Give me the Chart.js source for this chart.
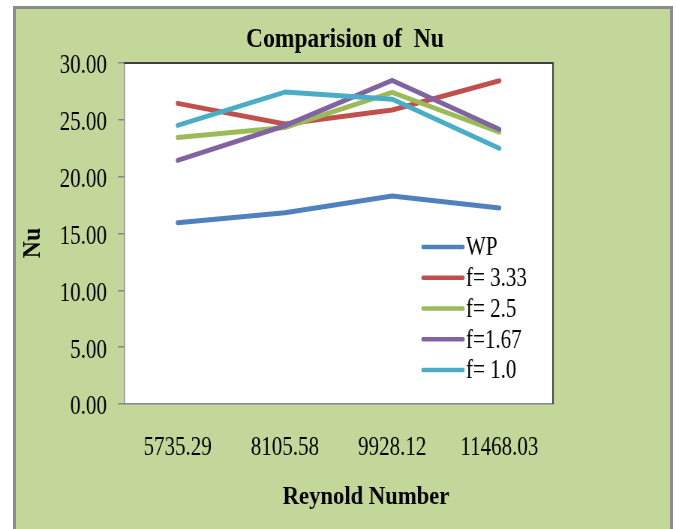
<!DOCTYPE html>
<html>
<head>
<meta charset="utf-8">
<script src="https://cdn.jsdelivr.net/npm/chart.js@4/dist/chart.umd.min.js"></script>
<style>
  html, body { margin: 0; padding: 0; background: #ffffff; width: 676px; height: 529px; overflow: hidden; }
  #frame { position: absolute; left: 13px; top: 6px; width: 660px; height: 540px; background: #c4d79b;
           border: 3px solid #8c8c8c; box-sizing: border-box; }
  /* the chart is laid out on a wider canvas and squeezed horizontally, giving the narrow serif lettering */
  #wrap { position: absolute; left: 0; top: 0; width: 901px; height: 529px; transform: scaleX(0.75028); transform-origin: 0 0; }
</style>
</head>
<body>
<div id="frame"></div>
<div id="wrap"><canvas id="chart" width="901" height="529"></canvas></div>
<script>
const SQUEEZE = 676 / 901;

const categories = ['5735.29', '8105.58', '9928.12', '11468.03'];
const seriesNames = ['WP', 'f= 3.33', 'f= 2.5', 'f=1.67', 'f= 1.0'];
const nuWP    = [15.95, 16.83, 18.30, 17.24];
const nuF333  = [26.45, 24.63, 25.86, 28.44];
const nuF25   = [23.45, 24.33, 27.41, 23.92];
const nuF167  = [21.43, 24.48, 28.47, 24.16];
const nuF10   = [24.51, 27.44, 26.82, 22.49];
const yTicks  = [0, 5, 10, 15, 20, 25, 30];

const chartTitle = 'Comparision of  Nu';
const xTitle = 'Reynold Number';
const yTitle = 'Nu';

const colors = ['#4f81bd', '#c0504d', '#9bbb59', '#8064a2', '#4bacc6'];
const seriesValues = [nuWP, nuF333, nuF25, nuF167, nuF10];

const SERIF = "'Liberation Serif', 'Times New Roman', serif";

// screen px -> canvas px along x
const cx = v => v / SQUEEZE;

function drawText(ctx, text, x, y, font, sx, sy, rotate) {
  ctx.save();
  ctx.translate(x, y);
  if (rotate) ctx.rotate(rotate);
  ctx.scale(sx, sy);
  ctx.font = font;
  ctx.fillStyle = '#000000';
  ctx.textAlign = 'center';
  ctx.textBaseline = 'middle';
  ctx.fillText(text, 0, 0);
  ctx.restore();
}

const chartDecor = {
  id: 'chartDecor',
  beforeDraw(chart) {
    const { ctx, chartArea: a } = chart;
    ctx.save();
    ctx.fillStyle = '#ffffff';
    ctx.fillRect(a.left, a.top, a.right - a.left, a.bottom - a.top);
    ctx.restore();
  },
  afterDraw(chart) {
    const { ctx, chartArea: a } = chart;
    // darker frame on the top and right of the plot area
    ctx.save();
    ctx.strokeStyle = '#404040';
    ctx.lineWidth = 2;
    ctx.beginPath();
    ctx.moveTo(a.left, a.top);
    ctx.lineTo(a.right, a.top);
    ctx.lineTo(a.right, a.bottom);
    ctx.stroke();
    ctx.restore();

    // titles
    const boldStretch = 0.87 / SQUEEZE;
    drawText(ctx, chartTitle, cx(345), 40, 'bold 27px ' + SERIF, boldStretch, 1);
    drawText(ctx, xTitle, cx(366), 497, 'bold 26px ' + SERIF, boldStretch, 1);
    drawText(ctx, yTitle, cx(33), 243, 'bold 25px ' + SERIF, 0.95, 1 / SQUEEZE, -Math.PI / 2);

    // legend inside the plot area
    const sw0 = a.right - cx(553 - 423);
    const sw1 = a.right - cx(553 - 463);
    const tx = a.right - cx(553 - 466);
    const y0 = a.top + (247 - 63);
    const step = 30.75;
    chart.data.datasets.forEach((ds, i) => {
      const y = y0 + i * step;
      ctx.save();
      ctx.strokeStyle = ds.borderColor;
      ctx.lineWidth = 4.5;
      ctx.lineCap = 'round';
      ctx.beginPath();
      ctx.moveTo(sw0, y);
      ctx.lineTo(sw1, y);
      ctx.stroke();
      ctx.font = '28px ' + SERIF;
      ctx.fillStyle = '#000000';
      ctx.textAlign = 'left';
      ctx.textBaseline = 'middle';
      ctx.fillText(ds.label, tx, y + 1);
      ctx.restore();
    });
  }
};

new Chart(document.getElementById('chart'), {
  type: 'line',
  data: {
    labels: categories,
    datasets: seriesNames.map((name, i) => ({
      label: name,
      data: seriesValues[i],
      borderColor: colors[i],
      backgroundColor: colors[i],
      borderWidth: 5,
      borderCapStyle: 'round',
      borderJoinStyle: 'round',
      pointRadius: 0,
      tension: 0,
      order: seriesNames.length - i
    }))
  },
  options: {
    responsive: false,
    animation: false,
    devicePixelRatio: 1,
    layout: { padding: { left: 0, right: 901 - cx(553), top: 63, bottom: 0 } },
    plugins: { legend: { display: false }, title: { display: false }, tooltip: { enabled: false } },
    scales: {
      x: {
        type: 'category',
        offset: true,
        grid: { display: false },
        border: { display: true, color: '#868686', width: 1.5 },
        ticks: { color: '#000000', font: { family: SERIF, size: 28 }, padding: 19, maxRotation: 0, autoSkip: false },
        afterFit(scale) { scale.height = 529 - 404; }
      },
      y: {
        min: 0,
        max: 30,
        afterBuildTicks(scale) { scale.ticks = yTicks.map(v => ({ value: v })); },
        grid: { display: true, drawOnChartArea: false, drawTicks: true, tickLength: cx(6), color: '#868686', lineWidth: 1.5 },
        border: { display: true, color: '#868686', width: 1.5 },
        ticks: { color: '#000000', font: { family: SERIF, size: 28 }, padding: cx(11), labelOffset: 3, callback: v => Number(v).toFixed(2) },
        afterFit(scale) { scale.width = cx(124); }
      }
    }
  },
  plugins: [chartDecor]
});
</script>
</body>
</html>
